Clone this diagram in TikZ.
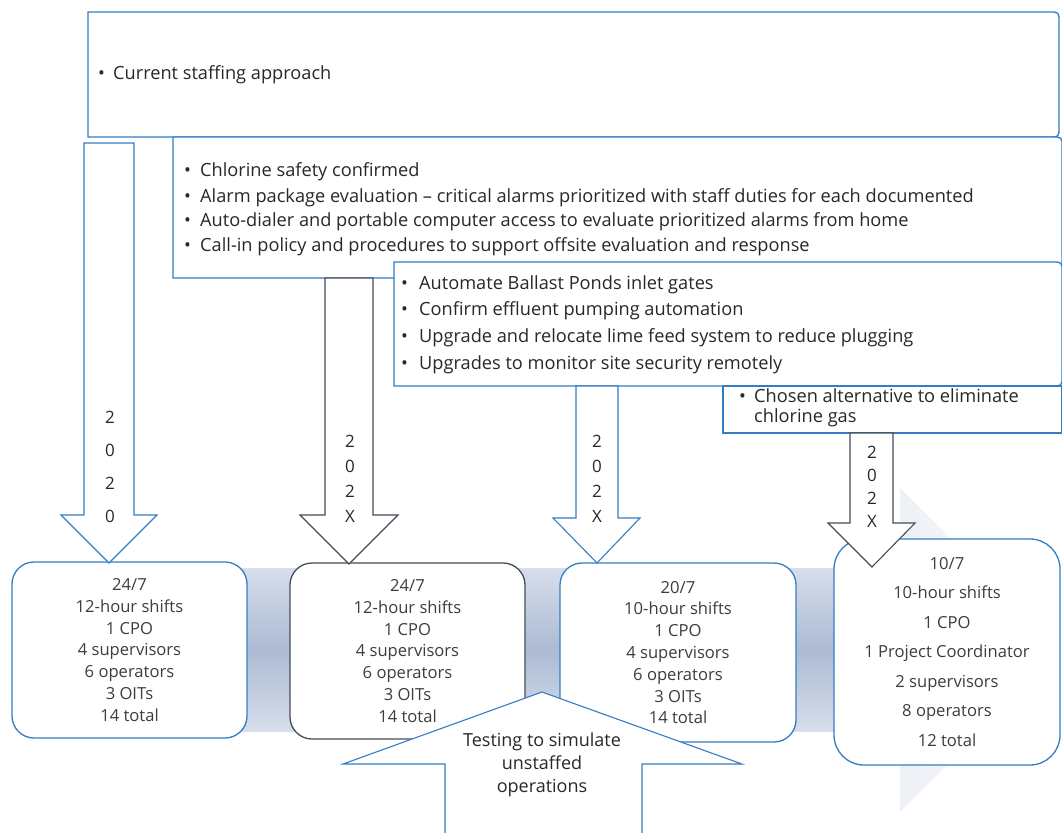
\documentclass[tikz,border=0pt]{standalone}
\usepackage{fontspec}
\setmainfont{Open Sans}
\definecolor{boxblue}{RGB}{52,125,195}
\definecolor{darkline}{RGB}{72,76,86}
\definecolor{txt}{RGB}{40,40,40}
\definecolor{bandmid}{RGB}{172,186,211}
\definecolor{bandedge}{RGB}{214,222,235}
\newcommand{\bl}[1]{\makebox[#1][l]{\textbullet}}
\begin{document}
\begin{tikzpicture}[x=1pt,y=-1pt,
  listline/.style={anchor=west,inner sep=0pt,text=txt,font=\fontsize{18.2}{21}\selectfont},
  outline/.style={draw=boxblue,line width=1.3pt,fill=white},
  staffbox/.style={draw=boxblue,line width=1.3pt,fill=white,rounded corners=22pt,
    align=center,text=txt!90,inner sep=0pt,font=\fontsize{16.6}{21.8}\selectfont},
  blockarrow/.style={fill=white,line width=1.1pt,line join=miter},
  yeartext/.style={align=center,text=txt,inner sep=0pt},
]
\useasboundingbox (0,0) rectangle (1062,832);

% timeline band behind the staffing boxes
\shade[top color=bandedge,bottom color=bandedge,middle color=bandmid] (20,568) rectangle (930,731);
\shade[left color=bandmid,right color=white,opacity=.22] (900,488) -- (1062,650) -- (900,812) -- cycle;

% stacked initiative boxes (open to the right edge)
\draw[outline] (88,12) -- (1049,12) .. controls (1059,12) .. (1059,22) -- (1059,127)
  .. controls (1059,137) .. (1049,137) -- (88,137) -- cycle;
\node[listline] (cur) at (98,75) {\bl{15pt}Current staffing approach};

\draw[outline] (173,137) -- (1052,137) .. controls (1062,137) .. (1062,147) -- (1062,268)
  .. controls (1062,278) .. (1052,278) -- (173,278) -- cycle;
\node[listline] (p1a) at (184,172) {\bl{16pt}Chlorine safety confirmed};
\node[listline] (p1b) at (184,198) {\bl{16pt}Alarm package evaluation -- critical alarms prioritized with staff duties for each documented};
\node[listline] (p1c) at (184,222) {\bl{16pt}Auto-dialer and portable computer access to evaluate prioritized alarms from home};
\node[listline] (p1d) at (184,247) {\bl{16pt}Call-in policy and procedures to support offsite evaluation and response};

\draw[outline] (394,262) -- (1052,262) .. controls (1062,262) .. (1062,272) -- (1062,376)
  .. controls (1062,386) .. (1052,386) -- (394,386) -- cycle;
\node[listline] (p2a) at (401,285) {\bl{18pt}Automate Ballast Ponds inlet gates};
\node[listline] (p2b) at (401,311) {\bl{18pt}Confirm effluent pumping automation};
\node[listline] (p2c) at (401,338) {\bl{18pt}Upgrade and relocate lime feed system to reduce plugging};
\node[listline] (p2d) at (401,365) {\bl{18pt}Upgrades to monitor site security remotely};

\draw[outline] (723,386) -- (1062,386) -- (1062,433) -- (723,433) -- cycle;
\node[listline] (p3a) at (739,396) {\bl{15pt}Chosen alternative to eliminate};
\node[listline] (p3b) at (739,418) {\hspace*{15pt}chlorine gas};

% staffing levels
\node[staffbox,minimum width=235pt,minimum height=176pt] (s1) at (129.5,650)
  {24/7\\12-hour shifts\\1 CPO\\4 supervisors\\6 operators\\3 OITs\\14 total};
\node[staffbox,draw=darkline,minimum width=235pt,minimum height=176pt] (s2) at (407.5,651)
  {24/7\\12-hour shifts\\1 CPO\\4 supervisors\\6 operators\\3 OITs\\14 total};
\node[staffbox,minimum width=236pt,minimum height=179pt] (s3) at (678,652.5)
  {20/7\\10-hour shifts\\1 CPO\\4 supervisors\\6 operators\\3 OITs\\14 total};
\node[staffbox,rounded corners=30pt,font=\fontsize{16.6}{29.5}\selectfont,minimum width=226pt,minimum height=226pt] (s4) at (947,652)
  {10/7\\10-hour shifts\\1 CPO\\1 Project Coordinator\\2 supervisors\\8 operators\\12 total};

% year arrows
\draw[blockarrow,draw=boxblue] (84,143) -- (134,143) -- (134,515) -- (157,515) -- (109,563)
  -- (61,515) -- (84,515) -- cycle;
\node[yeartext,font=\fontsize{17}{33}\selectfont] (y1) at (110,467) {2\\0\\2\\0};

\draw[blockarrow,draw=darkline] (325,278) -- (373,278) -- (373,515) -- (398,515) -- (349,564)
  -- (300,515) -- (325,515) -- cycle;
\node[yeartext,font=\fontsize{17}{25}\selectfont] (y2) at (350,479) {2\\0\\2\\X};

\draw[blockarrow,draw=boxblue] (576,386) -- (618,386) -- (618,518) -- (640,518) -- (597,563)
  -- (553,518) -- (576,518) -- cycle;
\node[yeartext,font=\fontsize{17}{25}\selectfont] (y3) at (597,479) {2\\0\\2\\X};

\draw[blockarrow,draw=darkline] (850,433) -- (893,433) -- (893,523) -- (915,523) -- (872,567)
  -- (828,523) -- (850,523) -- cycle;
\node[yeartext,font=\fontsize{17}{23}\selectfont] (y4) at (872,487) {2\\0\\2\\X};

% testing arrow
\draw[blockarrow,draw=boxblue] (445,836) -- (445,764) -- (343,764) -- (542,692) -- (742,764)
  -- (642,764) -- (642,836) -- cycle;
\node[yeartext,font=\fontsize{18}{23}\selectfont] (test) at (542,765)
  {Testing to simulate\\unstaffed\\operations};
\end{tikzpicture}
\end{document}
